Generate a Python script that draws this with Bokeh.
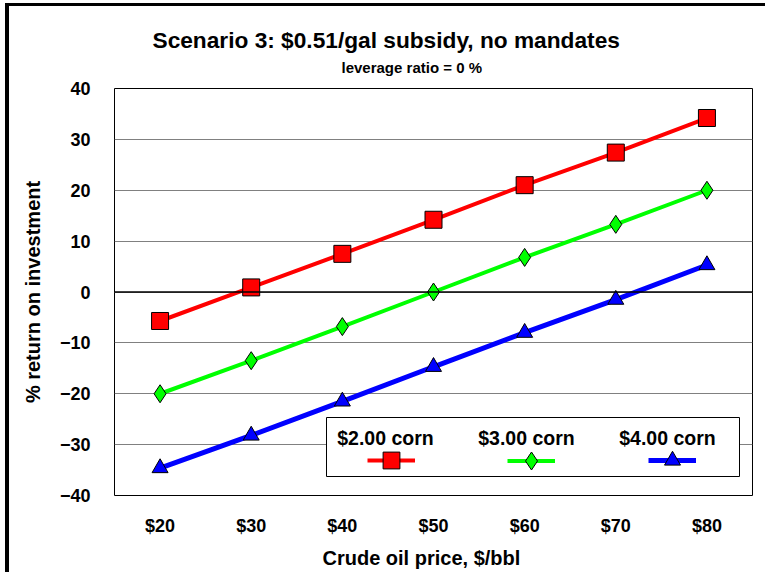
from bokeh.plotting import figure
from bokeh.models import (FactorRange, Span, Title, Legend, LegendItem, FixedTicker,
                          BoxAnnotation, Label)
from bokeh.embed import file_html
from bokeh.resources import INLINE

crude_prices = ["$20", "$30", "$40", "$50", "$60", "$70", "$80"]
corn_200 = [-5.7, 0.9, 7.5, 14.2, 21.0, 27.4, 34.2]
corn_300 = [-20.0, -13.5, -6.8, 0.0, 6.8, 13.3, 20.0]
corn_400 = [-34.6, -28.2, -21.5, -14.7, -8.0, -1.5, 5.3]
series_labels = ["$2.00 corn", "$3.00 corn", "$4.00 corn"]
y_ticks = [-40, -30, -20, -10, 0, 10, 20, 30, 40]

FONT = "Liberation Sans"

p = figure(width=760, height=569, output_backend="svg", toolbar_location=None,
           x_range=FactorRange(*crude_prices, range_padding=0), y_range=(-40, 40),
           min_border_left=105, min_border_right=17, min_border_top=82, min_border_bottom=80)
p.styles = {"margin-left": "5px", "margin-top": "3px",
            "border-left": "4px solid black", "border-top": "3px solid black"}

p.outline_line_color = "black"
p.outline_line_width = 1
p.background_fill_color = "white"
p.border_fill_color = "white"

# titles
p.title.text = "Scenario 3:  $0.51/gal subsidy, no mandates"
p.title.text_font = FONT
p.title.text_font_size = "22.7px"
p.title.text_font_style = "bold"
p.title.text_color = "black"
p.title.align = "left"
p.title.offset = 38
try:
    p.title.standoff = -18
except ValueError:
    p.title.standoff = 0
sub = Title(text="leverage ratio = 0 %", text_font=FONT, text_color="black",
            text_font_size="15px", text_font_style="bold", align="left", offset=227, standoff=26)
p.add_layout(sub, "above")

# grid
p.xgrid.grid_line_color = None
p.ygrid.grid_line_color = "#808080"
p.ygrid.grid_line_width = 1
p.yaxis.ticker = FixedTicker(ticks=y_ticks)
p.add_layout(Span(location=0, dimension="width", line_color="black", line_width=1.5))

for ax in (p.xaxis, p.yaxis):
    ax.axis_line_color = None
    ax.major_tick_line_color = None
    ax.minor_tick_line_color = None
    ax.major_label_text_font = FONT
    ax.major_label_text_font_style = "bold"
    ax.major_label_text_font_size = "18px"
    ax.major_label_text_color = "black"
    ax.axis_label_text_font = FONT
    ax.axis_label_text_font_style = "bold"
    ax.axis_label_text_font_size = "20px"
    ax.axis_label_text_color = "black"

p.yaxis.axis_label = "% return on investment"
p.yaxis.major_label_standoff = 18
p.yaxis.axis_label_standoff = 13
p.xaxis.major_label_standoff = 14

# x-axis title (slightly left of centre, as in the original)
xtitle = Title(text="Crude oil price, $/bbl", text_font=FONT, text_color="black",
               text_font_size="20px", text_font_style="bold", align="left", offset=208, standoff=13)
p.add_layout(xtitle, "below")

styles = [
    ("#FF0000", "square", 17, 4),
    ("#00FF00", "diamond", 18, 4),
    ("#0000FF", "triangle", 16, 5),
]
renderers = []
for vals, (color, marker, size, lw) in zip([corn_200, corn_300, corn_400], styles):
    l = p.line(crude_prices, vals, line_color=color, line_width=lw)
    m = p.scatter(crude_prices, vals, marker=marker, size=size, fill_color=color,
                  line_color="black", line_width=1)
    renderers.append((l, m, size))

# legend box (frame-relative screen units)
box = BoxAnnotation(left=212, right=625, top=78, bottom=19,
                    left_units="screen", right_units="screen", top_units="screen", bottom_units="screen",
                    fill_color="white", fill_alpha=1, line_color="black", line_width=1, line_alpha=1)
p.add_layout(box)

# one legend per series: glyph sample under its text
for (l, m, size), gx in zip(renderers, [253, 393, 534]):
    gh = int(round(size / 0.4))
    lg = Legend(items=[LegendItem(label=" ", renderers=[l, m])], location=(gx, int(round(35 - gh / 2))),
                glyph_width=48, glyph_height=gh, label_standoff=0, label_width=0, label_height=0,
                padding=0, margin=0, label_text_font_size="1px",
                border_line_color=None, background_fill_alpha=0)
    p.add_layout(lg, "center")

for text, xs in zip(series_labels, [271, 412, 553]):
    p.add_layout(Label(x=xs, y=58, x_units="screen", y_units="screen", text=text,
                       text_align="center", text_baseline="alphabetic", text_font=FONT,
                       text_font_style="bold", text_font_size="19.5px", text_color="black"))

open("out.html", "w").write(file_html(p, INLINE))
